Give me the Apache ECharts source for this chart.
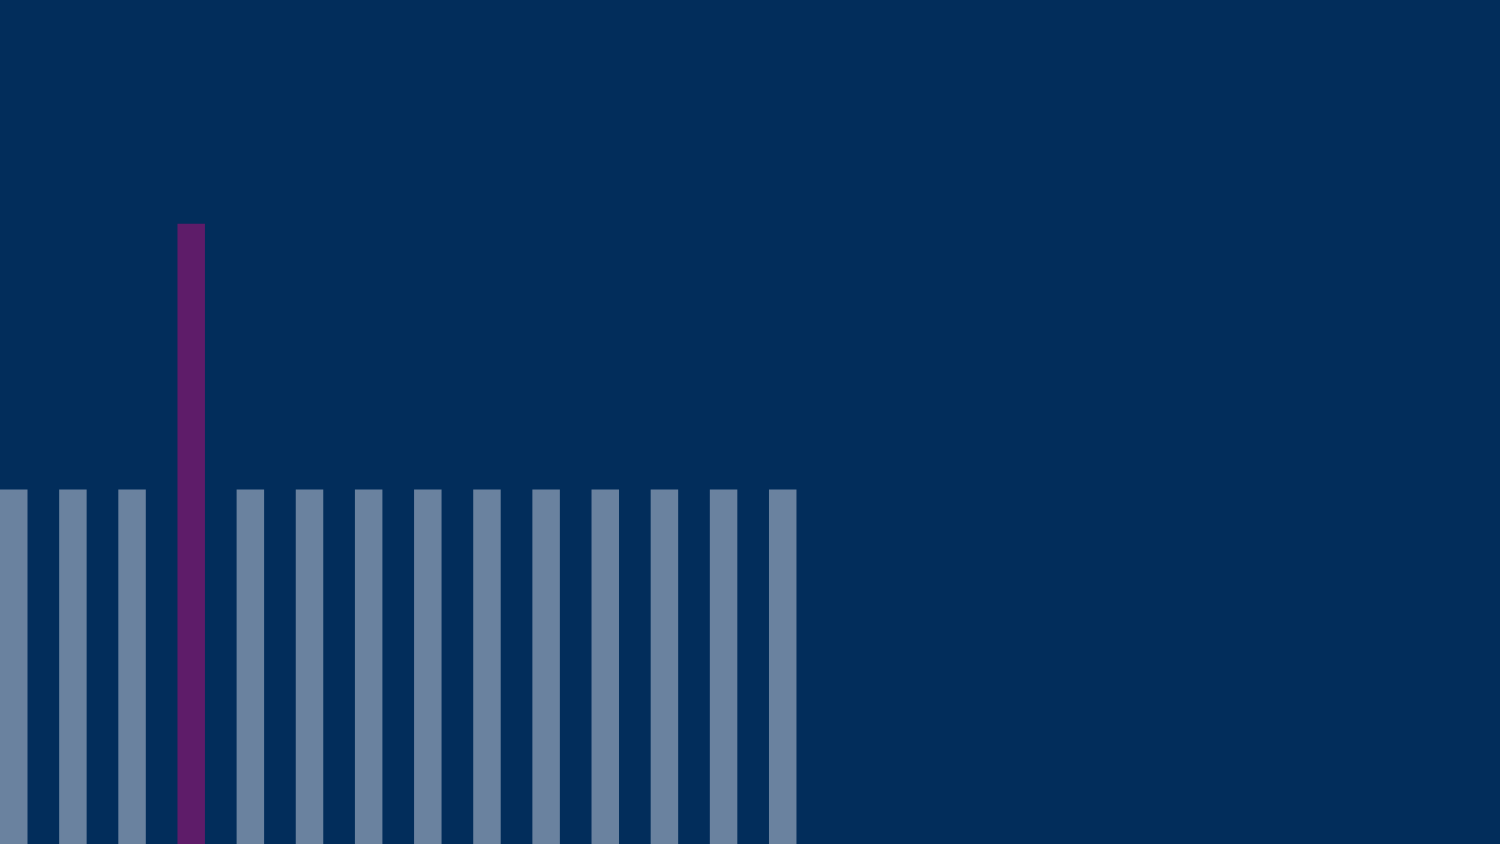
<!doctype html>
<html lang="en">
<head>
    <meta charset="UTF-8">
    <title>Bars</title>
    <script src="https://cdn.jsdelivr.net/npm/echarts@6/dist/echarts.min.js"></script>
    <style>
        html, body { margin: 0; padding: 0; background: #022d5b; }
    </style>
</head>
<body>
    <div id="main" style="width: 1500px;height:844px;"></div>
    <script>
        var positions = [1, 2, 3, 4, 5, 6, 7, 8, 9, 10, 11, 12, 13, 14];
        var values = [42, 42, 42, 73.5, 42, 42, 42, 42, 42, 42, 42, 42, 42, 42];
        var highlight = 4;

        // one unit on the x axis is one bar pitch (about 59 px)
        var xMin = 0.7675;
        var xMax = 26.126;

        var myChart = echarts.init(document.getElementById('main'));
        myChart.setOption({
            backgroundColor: '#022d5b',
            animation: false,
            grid: { left: 0, right: 0, top: 0, bottom: 0 },
            xAxis: {
                type: 'value',
                min: xMin,
                max: xMax,
                show: false
            },
            yAxis: {
                type: 'value',
                min: 0,
                max: 100,
                show: false
            },
            series: [{
                type: 'bar',
                barWidth: 27.5,
                data: positions.map(function (p, i) {
                    return {
                        value: [p, values[i]],
                        itemStyle: { color: p === highlight ? '#5e1c69' : '#6a829f' }
                    };
                })
            }]
        });
    </script>
</body>
</html>
